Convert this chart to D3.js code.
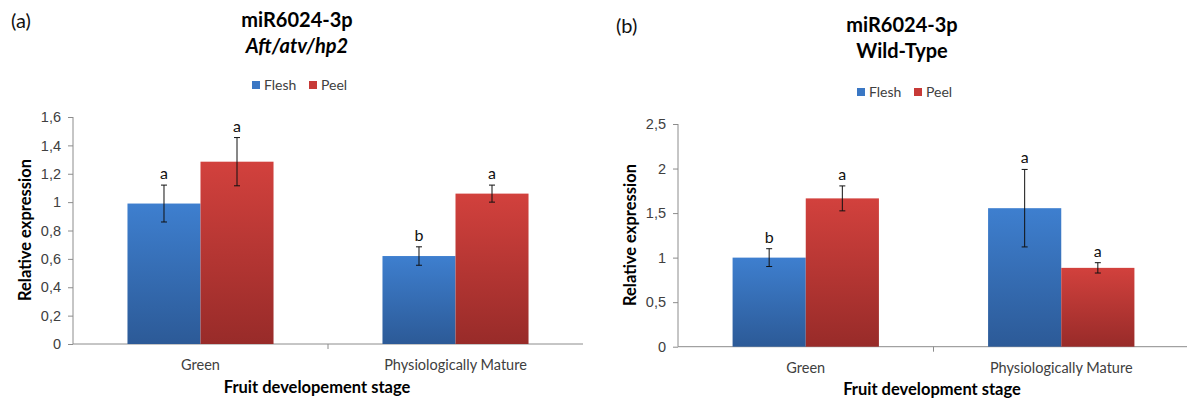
<!DOCTYPE html>
<html>
<head>
<meta charset="utf-8">
<script src="https://cdn.jsdelivr.net/npm/d3@7"></script>
<style>
  body { margin: 0; background: #fff; }
  svg { font-family: Lato, "Open Sans", sans-serif; }
  .tick text { fill: #404040; font-size: 14.5px; }
  .axis path, .axis line { stroke: #8c8c8c; }
</style>
</head>
<body>
<div id="chart"></div>
<script>
// shared
var categories = ["Green", "Physiologically Mature"];
var series = ["Flesh", "Peel"];

// panel (a) Aft/atv/hp2
var aFlesh = [0.99, 0.62];
var aPeel = [1.285, 1.06];
var aFleshErr = [0.13, 0.065];
var aPeelErr = [0.17, 0.06];
var aFleshSig = ["a", "b"];
var aPeelSig = ["a", "a"];
var aTicks = [0, 0.2, 0.4, 0.6, 0.8, 1, 1.2, 1.4, 1.6];

// panel (b) Wild-Type
var bFlesh = [1.0, 1.555];
var bPeel = [1.665, 0.885];
var bFleshErr = [0.1, 0.435];
var bPeelErr = [0.14, 0.058];
var bFleshSig = ["b", "a"];
var bPeelSig = ["a", "a"];
var bTicks = [0, 0.5, 1, 1.5, 2, 2.5];

var svg = d3.select("#chart").append("svg")
	.attr("width", 1187)
	.attr("height", 400);

var defs = svg.append("defs");
function grad(id, top, bottom) {
	var g = defs.append("linearGradient").attr("id", id)
		.attr("x1", 0).attr("y1", 0).attr("x2", 0).attr("y2", 1);
	g.append("stop").attr("offset", "0%").attr("stop-color", top);
	g.append("stop").attr("offset", "100%").attr("stop-color", bottom);
}
grad("gFlesh", "#3e7fcf", "#2c5a97");
grad("gPeel", "#d2413d", "#982b29");
var fills = { Flesh: "url(#gFlesh)", Peel: "url(#gPeel)" };
var legendColors = { Flesh: "#3a77c4", Peel: "#c73a37" };

function drawPanel(p) {
	var g = svg.append("g");

	var xScale = d3.scaleBand().domain(categories).range([p.x0, p.x1]);
	var xInner = d3.scaleBand().domain(series).range([0, xScale.bandwidth()])
		.paddingInner(0).paddingOuter(0.746);
	var yScale = d3.scaleLinear().domain([0, p.ticks[p.ticks.length - 1]]).range([p.y0, p.y1]);

	// y axis
	var yAxis = d3.axisLeft(yScale).tickValues(p.ticks).tickSize(5).tickPadding(7)
		.tickFormat(function(d) { return String(d).replace(".", ","); });
	g.append("g").attr("class", "axis")
		.attr("transform", "translate(" + p.x0 + ",0)")
		.call(yAxis)
		.call(function(s) { s.select(".domain").attr("d", "M0," + p.y0 + "V" + p.y1); });

	// x axis
	var xg = g.append("g").attr("class", "axis")
		.attr("transform", "translate(0," + p.y0 + ")");
	xg.append("line").attr("x1", p.x0).attr("x2", p.x1).attr("y1", 0).attr("y2", 0);
	xg.append("line").attr("x1", xScale(categories[1])).attr("x2", xScale(categories[1]))
		.attr("y1", 0).attr("y2", 5);
	xg.selectAll("text.cat").data(categories).enter().append("text")
		.attr("class", "cat")
		.attr("x", function(d) { return xScale(d) + xScale.bandwidth() / 2; })
		.attr("y", 26)
		.attr("text-anchor", "middle")
		.style("font-size", "14.5px")
		.style("fill", "#404040")
		.text(function(d) { return d; });

	// bars
	var rows = [];
	categories.forEach(function(c, i) {
		rows.push({ cat: c, s: "Flesh", v: p.flesh[i], e: p.fleshErr[i], sig: p.fleshSig[i] });
		rows.push({ cat: c, s: "Peel", v: p.peel[i], e: p.peelErr[i], sig: p.peelSig[i] });
	});

	g.selectAll(".bar").data(rows).enter().append("rect")
		.attr("class", "bar")
		.attr("x", function(d) { return xScale(d.cat) + xInner(d.s); })
		.attr("width", xInner.bandwidth())
		.attr("y", function(d) { return yScale(d.v); })
		.attr("height", function(d) { return p.y0 - yScale(d.v); })
		.style("fill", function(d) { return fills[d.s]; });

	// error bars
	var eb = g.selectAll(".err").data(rows).enter().append("g").attr("class", "err")
		.attr("transform", function(d) {
			return "translate(" + (xScale(d.cat) + xInner(d.s) + xInner.bandwidth() / 2) + ",0)";
		});
	eb.append("line")
		.attr("y1", function(d) { return yScale(d.v + d.e); })
		.attr("y2", function(d) { return yScale(d.v - d.e); })
		.attr("stroke", "#111").attr("stroke-width", 1);
	eb.append("line").attr("x1", -3).attr("x2", 3)
		.attr("y1", function(d) { return yScale(d.v + d.e); })
		.attr("y2", function(d) { return yScale(d.v + d.e); })
		.attr("stroke", "#111");
	eb.append("line").attr("x1", -3).attr("x2", 3)
		.attr("y1", function(d) { return yScale(d.v - d.e); })
		.attr("y2", function(d) { return yScale(d.v - d.e); })
		.attr("stroke", "#111");
	eb.append("text")
		.attr("y", function(d) { return yScale(d.v + d.e) - 6; })
		.attr("text-anchor", "middle")
		.style("font-size", "16px")
		.style("fill", "#111")
		.text(function(d) { return d.sig; });

	// axis titles
	g.append("text")
		.attr("transform", "translate(" + p.yLabelX + "," + p.yLabelY + ") rotate(-90)")
		.attr("text-anchor", "middle")
		.style("font-size", "16.5px").style("font-weight", "bold")
		.text("Relative expression");
	g.append("text")
		.attr("x", p.xLabelX).attr("y", p.xLabelY)
		.attr("text-anchor", "middle")
		.style("font-size", "16.5px").style("font-weight", "bold")
		.text(p.xLabel);

	// titles
	g.append("text").attr("x", p.panelX).attr("y", p.panelY)
		.style("font-size", "20px").style("fill", "#111")
		.text(p.panel);
	g.append("text").attr("x", p.titleX).attr("y", p.titleY)
		.attr("text-anchor", "middle")
		.style("font-size", "20px").style("font-weight", "bold")
		.text("miR6024-3p");
	g.append("text").attr("x", p.titleX).attr("y", p.titleY + 26)
		.attr("text-anchor", "middle")
		.style("font-size", "20px").style("font-weight", "bold")
		.style("font-style", p.italic ? "italic" : "normal")
		.text(p.subtitle);

	// legend
	var lg = g.selectAll(".leg").data(series).enter().append("g")
		.attr("class", "leg")
		.attr("transform", function(d, i) { return "translate(" + (p.legendX + i * 57) + "," + p.legendY + ")"; });
	lg.append("rect").attr("x", 0).attr("y", -4).attr("width", 8).attr("height", 8)
		.style("fill", function(d) { return legendColors[d]; });
	lg.append("text").attr("x", 12).attr("y", 5)
		.style("font-size", "14px").style("fill", "#404040")
		.text(function(d) { return d; });
}

drawPanel({
	x0: 73, x1: 583, y0: 344, y1: 117, ticks: aTicks,
	flesh: aFlesh, peel: aPeel, fleshErr: aFleshErr, peelErr: aPeelErr,
	fleshSig: aFleshSig, peelSig: aPeelSig,
	yLabelX: 31, yLabelY: 230, xLabelX: 317, xLabelY: 393, xLabel: "Fruit developement stage",
	panel: "(a)", panelX: 11, panelY: 28, titleX: 297, titleY: 27, subtitle: "Aft/atv/hp2", italic: true,
	legendX: 252, legendY: 85
});

drawPanel({
	x0: 678, x1: 1189, y0: 346.7, y1: 124, ticks: bTicks,
	flesh: bFlesh, peel: bPeel, fleshErr: bFleshErr, peelErr: bPeelErr,
	fleshSig: bFleshSig, peelSig: bPeelSig,
	yLabelX: 636, yLabelY: 235, xLabelX: 932, xLabelY: 395, xLabel: "Fruit development stage",
	panel: "(b)", panelX: 616, panelY: 33, titleX: 902, titleY: 32, subtitle: "Wild-Type", italic: false,
	legendX: 857, legendY: 92
});
</script>
</body>
</html>
